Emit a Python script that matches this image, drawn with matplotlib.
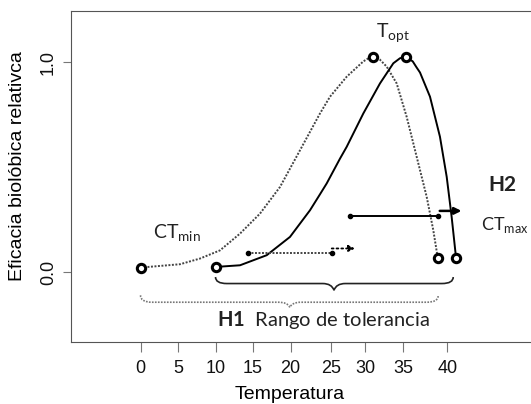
import matplotlib
matplotlib.use("Agg")
import matplotlib.pyplot as plt
from matplotlib.path import Path
from matplotlib.patches import PathPatch

plt.rcParams['font.family'] = ['Liberation Sans', 'DejaVu Sans']
plt.rcParams['mathtext.fontset'] = 'custom'
plt.rcParams['mathtext.rm'] = 'Lato'
plt.rcParams['mathtext.bf'] = 'Lato:bold'

# curve H1 (dotted) and H2 (solid)
dot_x = [0.0, 5.27, 7.93, 10.6, 13.27, 15.93, 18.6, 21.27, 23.93, 25.27, 27.49, 29.71,
         30.4, 31.04, 31.9, 32.83, 34.16, 35.49, 36.83, 38.16, 39.04, 39.63]
dot_y = [0.021, 0.037, 0.064, 0.103, 0.183, 0.278, 0.405, 0.580, 0.755, 0.835, 0.930, 1.003,
         1.018, 1.025, 1.012, 0.978, 0.898, 0.739, 0.548, 0.358, 0.199, 0.069]
sol_x = [10.0, 13.27, 16.83, 19.93, 22.6, 23.93, 24.83, 26.6, 27.49, 29.71, 31.93, 33.71,
         34.6, 35.4, 36.3, 36.8, 37.27, 38.6, 39.93, 40.83, 41.49, 42.07]
sol_y = [0.024, 0.032, 0.080, 0.167, 0.294, 0.37, 0.422, 0.540, 0.596, 0.755, 0.898, 0.994,
         1.018, 1.025, 1.003, 0.975, 0.950, 0.835, 0.644, 0.453, 0.262, 0.069]

# key points (CTmin, Topt, CTmax)
dot_pts_x = [0.0, 31.04, 39.63]
dot_pts_y = [0.021, 1.025, 0.069]
sol_pts_x = [10.0, 35.4, 42.07]
sol_pts_y = [0.024, 1.025, 0.069]

# shift arrows
dot_seg_x = [14.3, 25.5]
dot_seg_y = 0.091
dot_arrow = (25.5, 28.6, 0.112)
sol_seg_x = [27.9, 39.7]
sol_seg_y = 0.267
sol_arrow = (39.9, 42.8, 0.291)

# braces: x0, x1, x_tip, y_end, y_line, y_tip
sol_brace = (10.0, 41.7, 25.8, -0.024, -0.055, -0.087)
dot_brace = (0.0, 39.7, 19.9, -0.111, -0.144, -0.168)

tick_pos = [0, 5, 10, 15, 20, 25.4, 30, 35, 40.9]
tick_lab = ["0", "5", "10", "15", "20", "25", "30", "35", "40"]


def brace(ax, b, **kw):
    x0, x1, xm, ye, yl, yt = b
    r = 1.5
    verts = [(x0, ye), (x0, yl), (x0 + r, yl),
             (xm - r, yl), (xm - r * 0.2, yl), (xm, yt),
             (xm + r * 0.2, yl), (xm + r, yl),
             (x1 - r, yl), (x1, yl), (x1, ye)]
    codes = [Path.MOVETO, Path.CURVE3, Path.CURVE3,
             Path.LINETO, Path.CURVE3, Path.CURVE3,
             Path.CURVE3, Path.CURVE3,
             Path.LINETO, Path.CURVE3, Path.CURVE3]
    ax.add_patch(PathPatch(Path(verts, codes), fill=False, **kw))


fig = plt.figure(figsize=(5.31, 4.04), dpi=100)
ax = fig.add_axes([71 / 531, 1 - 341.7 / 404, 1 - 71 / 531, 330.7 / 404])
ax.set_xlim(-9.27, 52.07)
ax.set_ylim(-0.332, 1.243)

dotted = (0, (1, 0.8))
ax.plot(dot_x, dot_y, color='#444444', lw=1.4, ls=dotted)
ax.plot(sol_x, sol_y, color='black', lw=1.4)
for px, py in [(dot_pts_x, dot_pts_y), (sol_pts_x, sol_pts_y)]:
    ax.plot(px, py, ls='none', marker='o', ms=6, mfc='white', mec='black', mew=2.2, zorder=5)

ax.plot(dot_seg_x, [dot_seg_y] * 2, color='#444444', lw=1.4, ls=dotted,
        marker='o', ms=3, mfc='black', mec='black')
ax.annotate("", xy=(dot_arrow[1], dot_arrow[2]), xytext=(dot_arrow[0], dot_arrow[2]),
            arrowprops=dict(arrowstyle='-|>', color='black', lw=1.3, ls=':',
                            mutation_scale=9, shrinkA=0, shrinkB=0))
ax.plot(sol_seg_x, [sol_seg_y] * 2, color='black', lw=1.4,
        marker='o', ms=3, mfc='black', mec='black')
ax.annotate("", xy=(sol_arrow[1], sol_arrow[2]), xytext=(sol_arrow[0], sol_arrow[2]),
            arrowprops=dict(arrowstyle='-|>', color='black', lw=1.8,
                            mutation_scale=10, shrinkA=0, shrinkB=0))

brace(ax, sol_brace, color='#222222', lw=1.2)
brace(ax, dot_brace, color='#777777', lw=1.2, ls=dotted)

ann = dict(family='Lato', color='#222222')
ax.text(33.7, 1.138, r"$\mathrm{T}_{\mathrm{opt}}$", ha='center', va='center', fontsize=14, **ann)
ax.text(4.9, 0.185, r"$\mathrm{CT}_{\mathrm{min}}$", ha='center', va='center', fontsize=14, **ann)
ax.text(45.4, 0.222, r"$\mathrm{CT}_{\mathrm{max}}$", ha='left', va='center', fontsize=13, **ann)
ax.text(48.2, 0.414, "H2", ha='center', va='center', fontsize=15, fontweight='bold', **ann)
ax.text(10.2, -0.227, r"$\mathbf{H1}$  Rango de tolerancia", ha='left', va='center',
        fontsize=14.5, **ann)

for s in ['left', 'top', 'bottom']:
    ax.spines[s].set_color('#555555')
ax.spines['right'].set_visible(False)

ax.set_xticks(tick_pos)
ax.set_xticklabels(tick_lab)
ax.set_yticks([0.0, 1.0])
ax.set_yticklabels(["0.0", "1.0"], rotation=90, va='center')
ax.tick_params(axis='x', length=7, color='#777777', pad=6, labelsize=13, labelcolor='#111111')
ax.tick_params(axis='y', length=6, color='#777777', pad=4, labelsize=13, labelcolor='#111111')

ax.set_xlabel("Temperatura", fontsize=14)
ax.set_ylabel("Eficacia biolóbica relativca", fontsize=14)
ax.xaxis.set_label_coords(0.476, -0.135)
ax.yaxis.set_label_coords(-0.098, 0.531)

fig.savefig("out.png", dpi=100)
